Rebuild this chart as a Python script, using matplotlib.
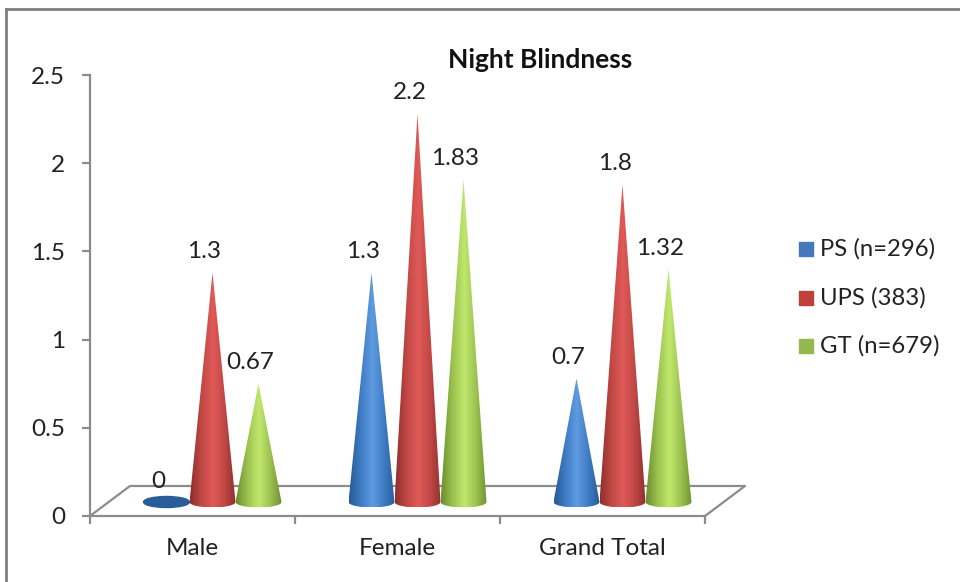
import matplotlib
matplotlib.use("Agg")
import matplotlib.pyplot as plt
import numpy as np
from matplotlib.colors import LinearSegmentedColormap
from matplotlib.patches import Ellipse, PathPatch, Rectangle
from matplotlib.path import Path
from matplotlib.lines import Line2D

categories = ["Male", "Female", "Grand Total"]
series_names = ["PS (n=296)", "UPS (383)", "GT (n=679)"]
ps = [0, 1.3, 0.7]
ups = [1.3, 2.2, 1.8]
gt = [0.67, 1.83, 1.32]
y_ticks = [0, 0.5, 1, 1.5, 2, 2.5]
y_tick_labels = ["0", "0.5", "1", "1.5", "2", "2.5"]

legend_colors = ["#4478bd", "#c0403c", "#94b84c"]
shades = [["#285a94", "#3f7cc4", "#5f9be0", "#3f7cc4", "#285a94"],
          ["#8f2f2c", "#c04845", "#e05a58", "#c04845", "#8f2f2c"],
          ["#6c8e2e", "#9cc250", "#c0e86c", "#9cc250", "#6c8e2e"]]

plt.rcParams["font.family"] = ["Lato", "DejaVu Sans"]
GRAY = "#8c8c8c"
TEXT = "#222222"

fig = plt.figure(figsize=(9.6, 5.82), dpi=100)
W, H = 960, 582
# left axis at px 90, floor front edge at px 516
ax = fig.add_axes([90 / W, (H - 516) / H, 615 / W, 441 / H])
ax.set_xlim(0, 3)
ax.set_ylim(0, 2.5)
ax.patch.set_alpha(0)

# depth of the fake 3d floor, in data units
depth_x = 40 / 205
depth_y = 30 / 176.4
half_w = 23 / 205
ell_h = 5.5 / 176.4
gap = 46 / 205

# floor
floor_x = [0, depth_x, 3 + depth_x, 3]
floor_y = [0, depth_y, depth_y, 0]
ax.plot(floor_x, floor_y, color=GRAY, lw=1.6, clip_on=False, zorder=1)

ax.spines[["top", "right"]].set_visible(False)
ax.spines[["left", "bottom"]].set_color(GRAY)
ax.spines[["left", "bottom"]].set_linewidth(1.6)
ax.set_yticks(y_ticks, y_tick_labels)
ax.set_xticks([0, 1, 2, 3], [])
ax.set_xticks([0.5, 1.5, 2.5], categories, minor=True)
ax.tick_params(axis="y", length=6, width=1.6, color=GRAY, pad=12, labelsize=17.5, labelcolor=TEXT)
ax.tick_params(axis="x", which="major", length=6, width=1.6, color=GRAY)
ax.tick_params(axis="x", which="minor", length=0, pad=16, labelsize=17.5, labelcolor=TEXT)


def draw_cone(xc, value, colors, z):
    base = depth_y / 2 - 1 / 176.4
    if value == 0:
        ax.add_patch(Ellipse((xc, base), 2 * half_w, 2 * ell_h, color="#2a5d98", zorder=z, clip_on=False))
        return
    top = base + value
    t = np.linspace(0, np.pi, 40)
    arc_x = xc + half_w * np.cos(t)
    arc_y = base - ell_h * np.sin(t)
    verts = [(xc, top)] + list(zip(arc_x, arc_y)) + [(xc, top)]
    codes = [Path.MOVETO] + [Path.LINETO] * len(arc_x) + [Path.CLOSEPOLY]
    patch = PathPatch(Path(verts, codes), facecolor="none", edgecolor="none", transform=ax.transData)
    ax.add_patch(patch)
    cmap = LinearSegmentedColormap.from_list("cone", colors)
    im = ax.imshow(np.linspace(0, 1, 128).reshape(1, -1), cmap=cmap, aspect="auto",
                   extent=[xc - half_w, xc + half_w, base - ell_h, top], zorder=z, clip_on=True)
    im.set_clip_path(patch)


all_values = [ps, ups, gt]
for s, values in enumerate(all_values):
    for c, v in enumerate(values):
        xc = c + 0.5 + depth_x / 2 + (s - 1) * gap
        draw_cone(xc, v, shades[s], 3 + s)
        ax.annotate(str(v), xy=(xc, v + depth_y / 2), xytext=(-8, 20), textcoords="offset pixels",
                    ha="center", va="center", fontsize=17.5, color=TEXT, zorder=10, annotation_clip=False)
ax.set_xlim(0, 3)
ax.set_ylim(0, 2.5)

fig.text(540 / W, 1 - 60 / H, "Night Blindness", ha="center", va="center", fontsize=19,
         fontweight="bold", color="#111111")

# legend
legend_y = [249, 298, 346]
for name, col, ly in zip(series_names, legend_colors, legend_y):
    fig.add_artist(Rectangle((799 / W, 1 - (ly + 7) / H), 14 / W, 14 / H, color=col, transform=fig.transFigure))
    fig.text(820 / W, 1 - ly / H, name, ha="left", va="center", fontsize=17.2, color=TEXT)

# outer border
fig.add_artist(Line2D([6 / W, 6 / W], [0, 1 - 9 / H], color="#7f7f7f", lw=2))
fig.add_artist(Line2D([6 / W, 1], [1 - 9 / H, 1 - 9 / H], color="#7f7f7f", lw=2))

fig.savefig("out.png", dpi=100)
